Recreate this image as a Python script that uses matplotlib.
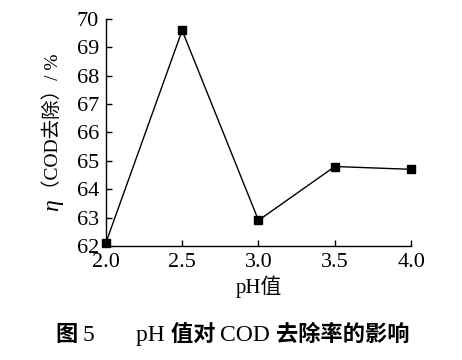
import matplotlib
matplotlib.use("Agg")
import matplotlib.pyplot as plt
from matplotlib.offsetbox import TextArea, HPacker, AnchoredOffsetbox

ph = [2.0, 2.5, 3.0, 3.5, 4.0]
removal = [62.1, 69.6, 62.9, 64.8, 64.7]
xticks = [2.0, 2.5, 3.0, 3.5, 4.0]
yticks = [62, 63, 64, 65, 66, 67, 68, 69, 70]

fam = ['Liberation Serif', 'Noto Sans CJK SC']
plt.rcParams['font.family'] = fam

fig = plt.figure(figsize=(4.62, 3.6), dpi=100)
ax = fig.add_axes([0.229, 0.317, 0.661, 0.630])
ax.plot(ph, removal, color='black', lw=1.0, marker='s', markersize=6, clip_on=False, zorder=3)
ax.set_xlim(2.0, 4.0)
ax.set_ylim(62, 70)
ax.set_xticks(xticks)
ax.set_xticklabels([f"{v:.1f}" for v in xticks])
ax.set_yticks(yticks)
ax.spines['top'].set_visible(False)
ax.spines['right'].set_visible(False)
for s in ['left', 'bottom']:
    ax.spines[s].set_linewidth(1.0)
ax.tick_params(direction='in', length=4, width=1.0, labelsize=16, pad=5)
ax.set_xlabel('pH值', fontsize=15, labelpad=3)

# y label: italic eta + rest
ylx = 53 / 462
yly = (360 - 199) / 360
fig.text(ylx, yly, '（COD去除）/ %', rotation=90, ha='center', va='bottom', fontsize=14)
fig.text(ylx, yly, 'η', rotation=90, ha='center', va='top', fontsize=17, style='italic',
         family='Liberation Serif')

# caption
bold_cjk = dict(family=['Noto Sans CJK SC'], fontsize=16, fontweight='bold', color='black')
serif = dict(family=['Liberation Serif'], fontsize=17, color='black')
parts = [
    TextArea('图 ', textprops=bold_cjk),
    TextArea('5       ', textprops=serif),
    TextArea('pH ', textprops=serif),
    TextArea('值对 ', textprops=bold_cjk),
    TextArea('COD ', textprops=serif),
    TextArea('去除率的影响', textprops=bold_cjk),
]
pack = HPacker(children=parts, align='baseline', pad=0, sep=0)
anch = AnchoredOffsetbox(loc='center', child=pack, frameon=False,
                         bbox_to_anchor=(233 / 462, 0.07), bbox_transform=fig.transFigure,
                         borderpad=0, pad=0)
fig.add_artist(anch)
fig.savefig('out.png', dpi=100)
